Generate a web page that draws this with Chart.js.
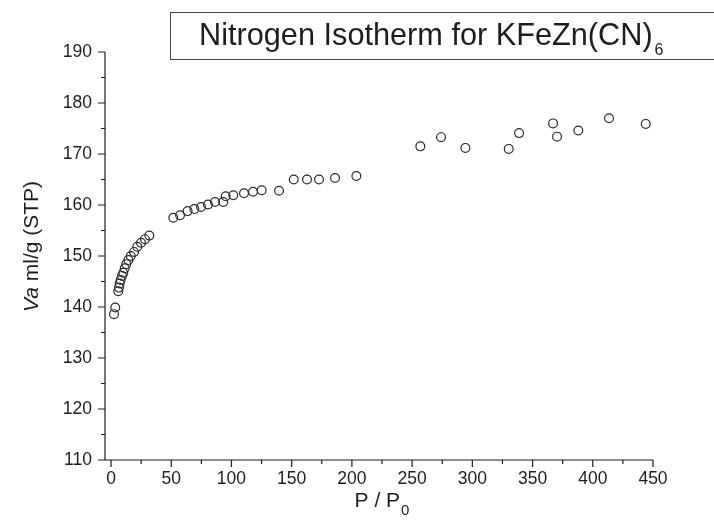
<!DOCTYPE html>
<html>
<head>
<meta charset="utf-8">
<script src="https://cdn.jsdelivr.net/npm/chart.js@4.4.1/dist/chart.umd.min.js"></script>
<style>
  html, body { margin: 0; padding: 0; background: #fff; }
  #wrap { width: 714px; height: 529px; position: relative; }
</style>
</head>
<body>
<div id="wrap"><canvas id="c" width="714" height="529"></canvas></div>
<script>
// ---- data ----
const pressure = [
  2.5, 3.5,
  6.0, 6.6, 7.2, 8.0, 9.1, 10.2, 11.4, 12.7, 14.4, 16.4, 19.1, 21.8, 24.9, 28.2, 31.8,
  51.7, 57.3, 63.6, 69.2, 74.7, 80.5, 86.3, 93.2, 95.2, 101.5, 110.4, 117.9, 125.1, 139.5,
  151.7, 162.7, 172.7, 186.0, 203.7,
  256.8, 274.0, 294.2, 330.2, 338.8, 367.0, 370.3, 388.0, 413.5, 444.0
];
const adsorbed = [
  138.6, 139.9,
  143.1, 143.8, 144.6, 145.3, 146.1, 146.7, 147.6, 148.4, 149.2, 150.0, 150.8, 151.8, 152.6, 153.3, 154.0,
  157.5, 158.0, 158.8, 159.2, 159.6, 160.1, 160.6, 160.6, 161.7, 161.9, 162.3, 162.6, 162.9, 162.8,
  165.0, 165.0, 165.0, 165.3, 165.7,
  171.5, 173.3, 171.2, 171.0, 174.1, 176.0, 173.4, 174.6, 177.0, 175.9
];
const xTickValues = [0, 50, 100, 150, 200, 250, 300, 350, 400, 450];
const xMinorValues = [25, 75, 125, 175, 225, 275, 325, 375, 425];
const yTickValues = [110, 120, 130, 140, 150, 160, 170, 180, 190];
const yMinorValues = [115, 125, 135, 145, 155, 165, 175, 185];
const titleMain = 'Nitrogen Isotherm for KFeZn(CN)';
const titleSub = '6';
const xTitleMain = 'P / P';
const xTitleSub = '0';
const yTitleItalic = 'Va';
const yTitleRest = ' ml/g (STP)';

const FONT = '"Liberation Sans", Arial, Helvetica, sans-serif';
const INK = '#1e1e1e';

const points = pressure.map((p, i) => ({ x: p, y: adsorbed[i] }));

const decorPlugin = {
  id: 'decor',
  afterDraw(chart) {
    const ctx = chart.ctx;
    const xs = chart.scales.x, ys = chart.scales.y;
    const area = chart.chartArea;
    ctx.save();
    ctx.strokeStyle = INK;
    ctx.lineWidth = 1.2;
    // axis lines
    ctx.beginPath();
    ctx.moveTo(area.left, area.top);
    ctx.lineTo(area.left, area.bottom);
    ctx.lineTo(area.right, area.bottom);
    ctx.stroke();
    // x ticks
    ctx.beginPath();
    xTickValues.forEach(v => { const px = xs.getPixelForValue(v); ctx.moveTo(px, area.bottom); ctx.lineTo(px, area.bottom + 7); });
    xMinorValues.forEach(v => { const px = xs.getPixelForValue(v); ctx.moveTo(px, area.bottom); ctx.lineTo(px, area.bottom + 4); });
    // y ticks
    yTickValues.forEach(v => { const py = ys.getPixelForValue(v); ctx.moveTo(area.left, py); ctx.lineTo(area.left - 7, py); });
    yMinorValues.forEach(v => { const py = ys.getPixelForValue(v); ctx.moveTo(area.left, py); ctx.lineTo(area.left - 4, py); });
    ctx.stroke();

    // title box
    ctx.strokeStyle = '#444';
    ctx.lineWidth = 1;
    ctx.strokeRect(170.5, 12.5, 580, 47);
    ctx.fillStyle = INK;
    ctx.textBaseline = 'alphabetic';
    ctx.textAlign = 'left';
    ctx.font = '30.7px ' + FONT;
    ctx.fillText(titleMain, 199, 45);
    const tw = ctx.measureText(titleMain).width;
    ctx.font = '16px ' + FONT;
    ctx.fillText(titleSub, 199 + tw + 2, 55);

    // x title
    ctx.font = '21px ' + FONT;
    const xw = ctx.measureText(xTitleMain).width;
    ctx.font = '15px ' + FONT;
    const sw = ctx.measureText(xTitleSub).width;
    const xc = (area.left + area.right) / 2 + 3;
    const x0 = xc - (xw + sw + 1) / 2;
    ctx.font = '21px ' + FONT;
    ctx.fillText(xTitleMain, x0, 507);
    ctx.font = '15px ' + FONT;
    ctx.fillText(xTitleSub, x0 + xw + 1, 515);

    // y title (rotated)
    ctx.save();
    ctx.translate(38, 312);
    ctx.rotate(-Math.PI / 2);
    ctx.font = 'italic 21px ' + FONT;
    ctx.fillText(yTitleItalic, 0, 0);
    const iw = ctx.measureText(yTitleItalic).width;
    ctx.font = '21px ' + FONT;
    ctx.fillText(yTitleRest, iw, 0);
    ctx.restore();

    ctx.restore();
  }
};

new Chart(document.getElementById('c'), {
  type: 'scatter',
  data: {
    datasets: [{
      data: points,
      pointStyle: 'circle',
      pointRadius: 4.4,
      pointHoverRadius: 4.4,
      borderWidth: 1.2,
      borderColor: '#2a2a2a',
      backgroundColor: 'rgba(255,255,255,0)'
    }]
  },
  options: {
    responsive: false,
    animation: false,
    events: [],
    layout: { padding: { top: 52, right: 61, left: 0, bottom: 0 } },
    plugins: { legend: { display: false }, tooltip: { enabled: false }, title: { display: false } },
    scales: {
      x: {
        type: 'linear',
        min: -5, max: 450,
        grid: { display: false, drawTicks: false },
        border: { display: false },
        afterBuildTicks: s => { s.ticks = xTickValues.map(v => ({ value: v })); },
        afterFit: s => { s.height = 69; },
        ticks: { color: INK, font: { family: FONT, size: 17.5 }, padding: 9, maxRotation: 0, autoSkip: false }
      },
      y: {
        type: 'linear',
        min: 110, max: 190,
        grid: { display: false, drawTicks: false },
        border: { display: false },
        afterBuildTicks: s => { s.ticks = yTickValues.map(v => ({ value: v })); },
        afterFit: s => { s.width = 105; },
        ticks: { color: INK, font: { family: FONT, size: 17.5 }, padding: 13, autoSkip: false }
      }
    }
  },
  plugins: [decorPlugin]
});
</script>
</body>
</html>
